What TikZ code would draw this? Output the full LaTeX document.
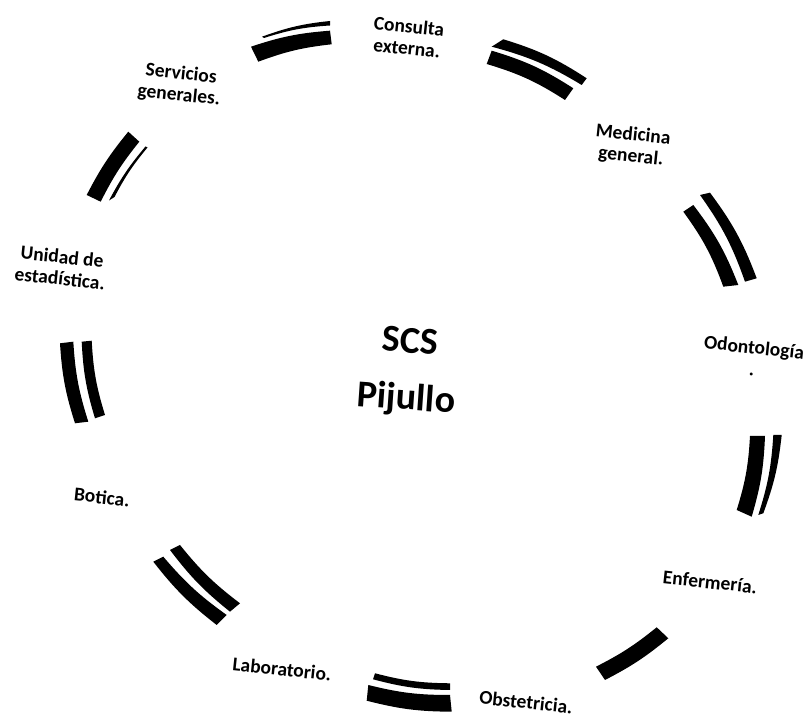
\documentclass[tikz,border=0pt]{standalone}
\usepackage{fontspec}
\setmainfont{Carlito}
\begin{document}
\begin{tikzpicture}[x=0.75pt,y=0.75pt,
  band/.style={fill=black},
  lbl/.style={font=\fontsize{14.6}{16.4}\selectfont\bfseries, align=center, rotate=-6, inner sep=0pt},
  ctr/.style={font=\fontsize{28.5}{42.75}\selectfont\bfseries, align=center, rotate=-4, inner sep=0pt}]
\fill[white] (0,0) rectangle (808,720);
\useasboundingbox (0,0) rectangle (808,720);

% centre
\node[ctr] (hub) at (408,348) {SCS\\Pijullo};

% labels
\node[lbl] (consulta) at (408,683) {Consulta\\externa.};
\node[lbl] (medicina) at (632,574) {Medicina\\general.};
\node[lbl] (odonto) at (753,362) {Odontología\\.};
\node[lbl] (enfer) at (710,138) {Enfermería.};
\node[lbl] (obste) at (526,18) {Obstetricia.};
\node[lbl] (labo) at (282,51) {Laboratorio.};
\node[lbl] (botica) at (102,223) {Botica.};
\node[lbl] (unidad) at (61,452.5) {Unidad de\\estadística.};
\node[lbl] (servicios) at (180,635) {Servicios\\generales.};

% arc 1: Servicios -> Consulta
\fill[band] (251,673.3) to[bend left=7] (330,689.3) -- (331.7,675.7) to[bend right=7] (258.3,658.3) -- cycle;
\fill[band] (262,683.3) to[bend left=7] (330,699) -- (330,694.5) to[bend right=7] (264,682) -- cycle;
% arc 2: Consulta -> Medicina
\fill[band] (503.3,680.7) to[bend left=8] (586.7,641.7) -- (581.7,635) to[bend right=8] (491.7,673.3) -- cycle;
\fill[band] (491.7,669.3) to[bend left=8] (573.3,631.7) -- (565,620) to[bend right=8] (486.7,656) -- cycle;
% arc 3: Medicina -> Odontologia
\fill[band] (710,527.3) to[bend left=8] (756.7,441.7) -- (745,438.3) to[bend right=8] (700,525) -- cycle;
\fill[band] (693.3,515) to[bend left=8] (738.3,435) -- (723.3,433.3) to[bend right=8] (683.3,508.3) -- cycle;
% arc 4: Odontologia -> Enfermeria
\fill[band] (765,284) to[bend left=7] (751.7,203.3) -- (736.7,210) to[bend right=7] (750,284) -- cycle;
\fill[band] (781.7,285) to[bend left=7] (763.3,206.7) -- (758.3,205) to[bend right=7] (773.3,285) -- cycle;
% arc 5: Enfermeria -> Obstetricia
\fill[band] (668.3,81.7) to[bend left=6] (605,40) -- (596,53.3) to[bend right=6] (656.7,92.7) -- cycle;
% arc 6: Obstetricia -> Laboratorio
\fill[band] (451.7,8.3) to[bend left=7] (366.7,19.3) -- (368.3,35) to[bend right=7] (450,25) -- cycle;
\fill[band] (450,30) to[bend left=7] (373,40.7) -- (375,46.7) to[bend right=7] (450,36.7) -- cycle;
% arc 7: Laboratorio -> Botica
\fill[band] (216.7,95) to[bend left=7] (153.3,158.3) -- (163.3,163.3) to[bend right=7] (226.7,105) -- cycle;
\fill[band] (230,108.3) to[bend left=7] (170,170) -- (180,175) to[bend right=7] (240,116.7) -- cycle;
% arc 8: Botica -> Unidad
\fill[band] (75,296.7) to[bend left=7] (60,376.7) -- (73.3,378.3) to[bend right=7] (88.3,298.3) -- cycle;
\fill[band] (95,301.7) to[bend left=7] (81.7,378.3) -- (91.7,379.3) to[bend right=7] (105,305) -- cycle;
% arc 9: Unidad -> Servicios
\fill[band] (86.7,525) to[bend left=6] (128.3,588.3) -- (139.3,578.3) to[bend right=6] (100.7,518.3) -- cycle;
\fill[band] (109,519.5) to[bend left=6] (145.5,573.5) -- (147.5,572.5) to[bend right=6] (114.5,523) -- cycle;
\end{tikzpicture}
\end{document}
